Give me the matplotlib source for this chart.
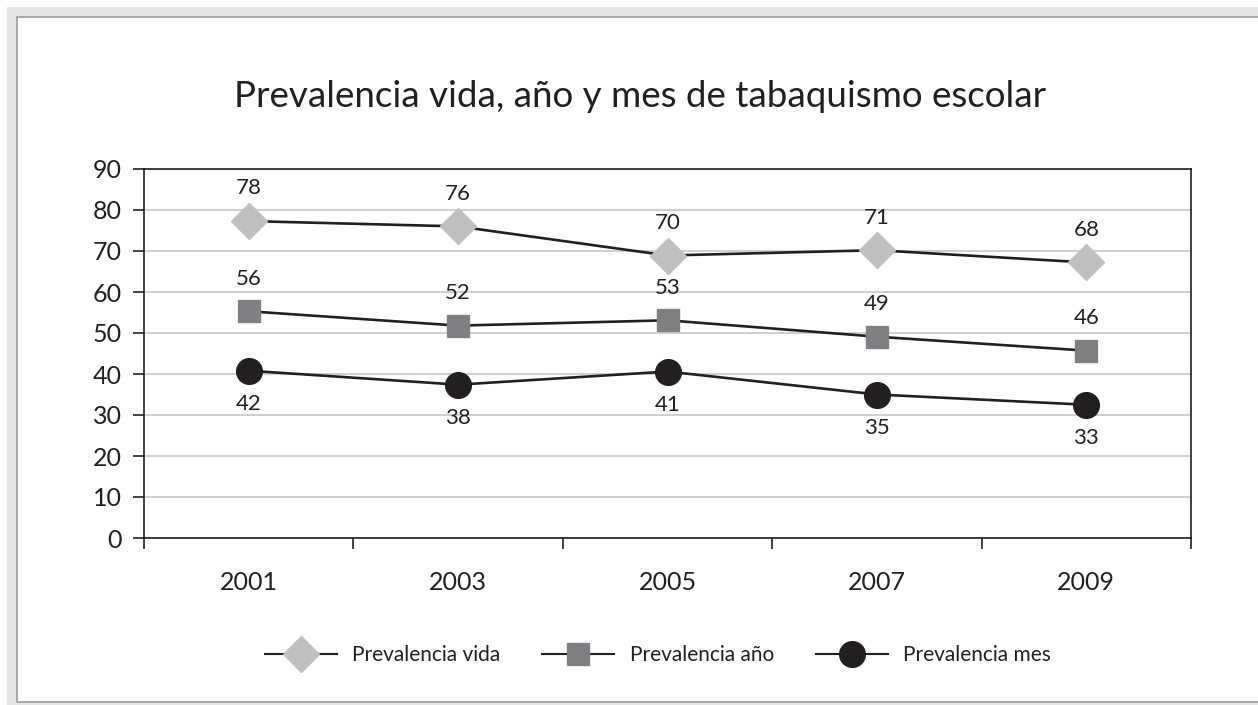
import matplotlib
matplotlib.use("Agg")
import matplotlib.pyplot as plt
from matplotlib.patches import Rectangle
from matplotlib.lines import Line2D

years = ["2001", "2003", "2005", "2007", "2009"]
vida = [77.3, 76.0, 68.9, 70.2, 67.2]
anio = [55.3, 51.8, 53.1, 49.1, 45.7]
mes = [40.8, 37.4, 40.6, 35.0, 32.5]
vida_labels = ["78", "76", "70", "71", "68"]
anio_labels = ["56", "52", "53", "49", "46"]
mes_labels = ["42", "38", "41", "35", "33"]
series_names = ["Prevalencia vida", "Prevalencia año", "Prevalencia mes"]
yticks = [0, 10, 20, 30, 40, 50, 60, 70, 80, 90]

plt.rcParams['font.family'] = ['Lato', 'DejaVu Sans']
W, H = 1258, 705
fig = plt.figure(figsize=(W/100, H/100), dpi=100)
fig.patch.set_facecolor('white')

def fx(px): return px / W
def fy(py): return 1 - py / H

fig.patches.append(Rectangle((fx(7), 0), 1, fy(7), transform=fig.transFigure,
                             facecolor='#e6e7e8', edgecolor='none', zorder=0))
fig.patches.append(Rectangle((fx(17), fy(702)), 1.1, fy(17) - fy(702), transform=fig.transFigure,
                             facecolor='white', edgecolor='#9a9b9d', linewidth=1.2, zorder=1))

ax = fig.add_axes([fx(144), fy(538), fx(1191) - fx(144), fy(169) - fy(538)])
ax.set_zorder(2)
ax.set_facecolor('white')
x = list(range(len(years)))
dark = '#231f20'
c_vida, c_anio, c_mes = '#bfc0c2', '#7f8083', dark
ms_vida, ms_anio, ms_mes = 18, 16.5, 18.5

ax.plot(x, vida, color=dark, lw=1.9, marker='D', ms=ms_vida, mfc=c_vida, mec=c_vida, zorder=3)
ax.plot(x, anio, color=dark, lw=1.9, marker='s', ms=ms_anio, mfc=c_anio, mec=c_anio, zorder=3)
ax.plot(x, mes, color=dark, lw=1.9, marker='o', ms=ms_mes, mfc=c_mes, mec=c_mes, zorder=3)

for i in x:
    ax.annotate(vida_labels[i], (i, vida[i]), xytext=(0, 23.5), textcoords='offset points',
                ha='center', va='center', fontsize=16, color=dark)
    ax.annotate(anio_labels[i], (i, anio[i]), xytext=(0, 23.5), textcoords='offset points',
                ha='center', va='center', fontsize=16, color=dark)
    ax.annotate(mes_labels[i], (i, mes[i]), xytext=(0, -24), textcoords='offset points',
                ha='center', va='center', fontsize=16, color=dark)

ax.set_xlim(-0.5, len(years) - 0.5)
ax.set_ylim(0, 90)
ax.set_yticks(yticks)
ax.set_yticklabels([str(v) for v in yticks], fontsize=18, color=dark)
ax.set_xticks(x)
ax.set_xticklabels(years, fontsize=18, color=dark)
ax.set_xticks([i - 0.5 for i in range(len(years) + 1)], minor=True)
ax.tick_params(axis='x', which='major', length=0, pad=24)
ax.tick_params(axis='x', which='minor', length=8, width=1.2, color=dark, direction='out')
ax.tick_params(axis='y', length=8, width=1.2, color=dark, pad=8)
ax.grid(axis='y', color='#c6c7c8', lw=1.2, zorder=0)
for s in ax.spines.values():
    s.set_color(dark)
    s.set_linewidth(1.2)

fig.text(fx(640), fy(107), "Prevalencia vida, año y mes de tabaquismo escolar",
         ha='center', va='baseline', fontsize=26.5, color=dark)

handles = [
    Line2D([], [], color=dark, lw=1.5, marker='D', ms=ms_vida, mfc=c_vida, mec=c_vida),
    Line2D([], [], color=dark, lw=1.5, marker='s', ms=ms_anio, mfc=c_anio, mec=c_anio),
    Line2D([], [], color=dark, lw=1.5, marker='o', ms=ms_mes, mfc=c_mes, mec=c_mes),
]
leg = fig.legend(handles, series_names, loc='center', bbox_to_anchor=(fx(658), fy(655)),
                 ncol=3, frameon=False, fontsize=15, handlelength=3.45, columnspacing=2.0,
                 handletextpad=0.75)
for t in leg.get_texts():
    t.set_color(dark)

fig.savefig("out.png", dpi=100)
